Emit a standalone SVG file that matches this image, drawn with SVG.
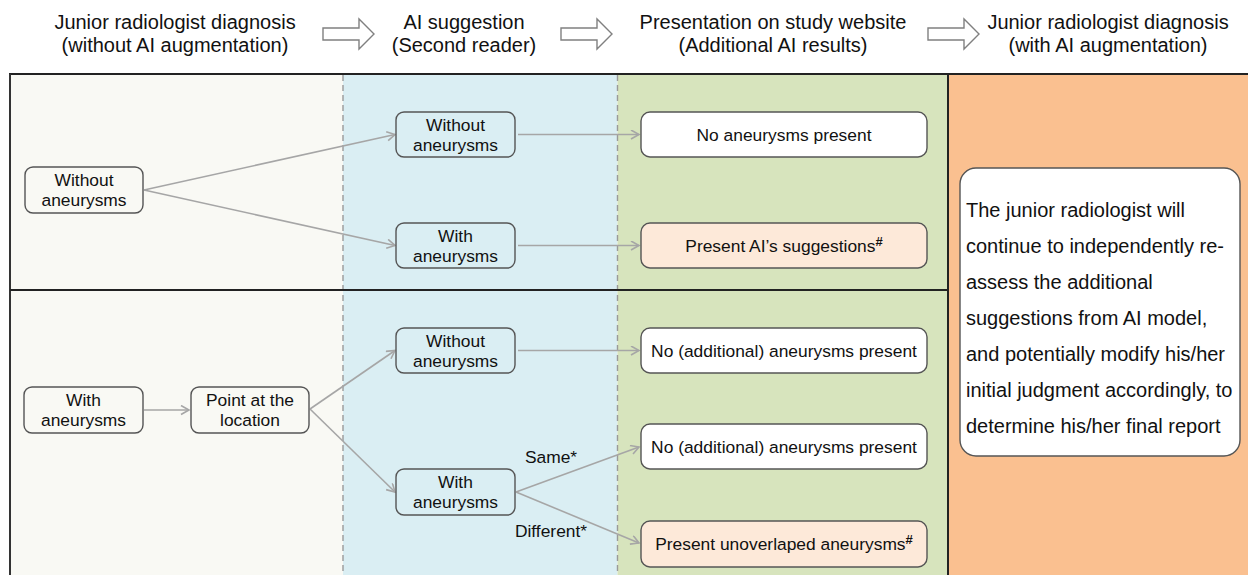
<svg xmlns="http://www.w3.org/2000/svg" width="1248" height="575" viewBox="0 0 1248 575">
<style>
.hdr{font-family:"Liberation Sans",Arial,sans-serif;font-size:20px;fill:#111;text-anchor:middle}
.t{font-family:"Liberation Sans",Arial,sans-serif;font-size:17.4px;fill:#111;text-anchor:middle}
.rt{font-family:"Liberation Sans",Arial,sans-serif;font-size:20px;fill:#111}
.box{stroke:#555;stroke-width:1.4}
.blue{fill:#daeef3}
.white{fill:#ffffff}
.peach{fill:#fde9d9}
.left{fill:#f9f9f4}
.conn{stroke:#a6a6a6;stroke-width:1.6;fill:none;marker-end:url(#arr)}
.hollow{fill:#fff;stroke:#808080;stroke-width:1.4}
.sup{font-size:13px;font-weight:bold}
</style>
<defs>
<marker id="arr" markerUnits="userSpaceOnUse" markerWidth="12" markerHeight="12" refX="9" refY="5" orient="auto">
<path d="M1,0.5 L9,5 L1,9.5" fill="none" stroke="#a6a6a6" stroke-width="1.6"/>
</marker>
</defs>
<rect width="1248" height="575" fill="#ffffff"/>
<g id="headers">
<text class="hdr" x="175" y="29">Junior radiologist diagnosis</text>
<text class="hdr" x="175" y="52">(without AI augmentation)</text>
<text class="hdr" x="464" y="29">AI suggestion</text>
<text class="hdr" x="464" y="52">(Second reader)</text>
<text class="hdr" x="773" y="29">Presentation on study website</text>
<text class="hdr" x="773" y="52">(Additional AI results)</text>
<text class="hdr" x="1108" y="29">Junior radiologist diagnosis</text>
<text class="hdr" x="1108" y="52">(with AI augmentation)</text>
<path class="hollow" d="M323,28 H359 V19 L374,34 L359,49 V40 H323 Z"/>
<path class="hollow" d="M561,28 H597 V19 L612,34 L597,49 V40 H561 Z"/>
<path class="hollow" d="M928,28 H964 V19 L979,34 L964,49 V40 H928 Z"/>
</g>
<g id="panels">
<rect x="10" y="74" width="333" height="501" class="left"/>
<rect x="343" y="74" width="274.5" height="501" fill="#daeef3"/>
<rect x="617.5" y="74" width="330.5" height="501" fill="#d7e4bd"/>
<rect x="948" y="74" width="300" height="501" fill="#fac090"/>
<line x1="343" y1="75" x2="343" y2="575" stroke="#9a9a9a" stroke-width="1.4" stroke-dasharray="6,4"/>
<line x1="617.5" y1="75" x2="617.5" y2="575" stroke="#9a9a9a" stroke-width="1.4" stroke-dasharray="6,4"/>
<line x1="9" y1="74" x2="1248" y2="74" stroke="#222" stroke-width="2"/>
<line x1="10" y1="74" x2="10" y2="575" stroke="#333" stroke-width="2"/>
<line x1="10" y1="290" x2="948" y2="290" stroke="#222" stroke-width="2"/>
<line x1="948" y1="74" x2="948" y2="575" stroke="#222" stroke-width="2"/>
</g>
<g id="connectors">
<line class="conn" x1="144" y1="190" x2="395" y2="134.5"/>
<line class="conn" x1="144" y1="190" x2="395" y2="245.5"/>
<line class="conn" x1="518" y1="134.5" x2="639" y2="134.5"/>
<line class="conn" x1="518" y1="245.5" x2="639" y2="245.5"/>
<line class="conn" x1="144" y1="410" x2="189" y2="410"/>
<line class="conn" x1="310" y1="409" x2="395" y2="350.5"/>
<line class="conn" x1="310" y1="409" x2="395" y2="492"/>
<line class="conn" x1="518" y1="350.5" x2="639" y2="350.5"/>
<line class="conn" x1="516" y1="492" x2="639" y2="447"/>
<line class="conn" x1="516" y1="492" x2="639" y2="543"/>
<text class="t" x="551" y="463">Same*</text>
<text class="t" x="551" y="537">Different*</text>
</g>
<g id="n_left_without">
<rect class="box left" x="25" y="167" width="118" height="46" rx="8"/>
<text class="t" x="84" y="186">Without</text>
<text class="t" x="84" y="206">aneurysms</text>
</g>
<g id="n_left_with">
<rect class="box left" x="24" y="387" width="119" height="46" rx="8"/>
<text class="t" x="83.5" y="406">With</text>
<text class="t" x="83.5" y="426">aneurysms</text>
</g>
<g id="n_point">
<rect class="box left" x="191" y="387" width="118" height="46" rx="8"/>
<text class="t" x="250" y="406">Point at the</text>
<text class="t" x="250" y="426">location</text>
</g>
<g id="n_ai1">
<rect class="box blue" x="396" y="112" width="119" height="45" rx="8"/>
<text class="t" x="455.5" y="130.5">Without</text>
<text class="t" x="455.5" y="150.5">aneurysms</text>
</g>
<g id="n_ai2">
<rect class="box blue" x="396" y="223" width="119" height="45" rx="8"/>
<text class="t" x="455.5" y="241.5">With</text>
<text class="t" x="455.5" y="261.5">aneurysms</text>
</g>
<g id="n_ai3">
<rect class="box blue" x="396" y="328" width="119" height="45" rx="8"/>
<text class="t" x="455.5" y="346.5">Without</text>
<text class="t" x="455.5" y="366.5">aneurysms</text>
</g>
<g id="n_ai4">
<rect class="box blue" x="396" y="469" width="119" height="46" rx="8"/>
<text class="t" x="455.5" y="488">With</text>
<text class="t" x="455.5" y="508">aneurysms</text>
</g>
<g id="n_res1">
<rect class="box white" x="641" y="112" width="286" height="45" rx="9"/>
<text class="t" x="784" y="140.5">No aneurysms present</text>
</g>
<g id="n_res2">
<rect class="box peach" x="641" y="223" width="286" height="45" rx="9"/>
<text class="t" x="784" y="251.5">Present AI’s suggestions<tspan class="sup" dy="-6">#</tspan></text>
</g>
<g id="n_res3">
<rect class="box white" x="641" y="328" width="286" height="45" rx="9"/>
<text class="t" x="784" y="356.5">No (additional) aneurysms present</text>
</g>
<g id="n_res4">
<rect class="box white" x="641" y="424" width="286" height="45" rx="9"/>
<text class="t" x="784" y="452.5">No (additional) aneurysms present</text>
</g>
<g id="n_res5">
<rect class="box peach" x="641" y="521" width="286" height="46" rx="9"/>
<text class="t" x="784" y="550">Present unoverlaped aneurysms<tspan class="sup" dy="-6">#</tspan></text>
</g>
<g id="n_final">
<rect x="960" y="168" width="280" height="288" rx="16" fill="#ffffff" stroke="#555" stroke-width="1.4"/>
<text class="rt" x="966" y="217">The junior radiologist will</text>
<text class="rt" x="966" y="253">continue to independently re-</text>
<text class="rt" x="966" y="289">assess the additional</text>
<text class="rt" x="966" y="325">suggestions from AI model,</text>
<text class="rt" x="966" y="361">and potentially modify his/her</text>
<text class="rt" x="966" y="397">initial judgment accordingly, to</text>
<text class="rt" x="966" y="433">determine his/her final report</text>
</g>
</svg>
